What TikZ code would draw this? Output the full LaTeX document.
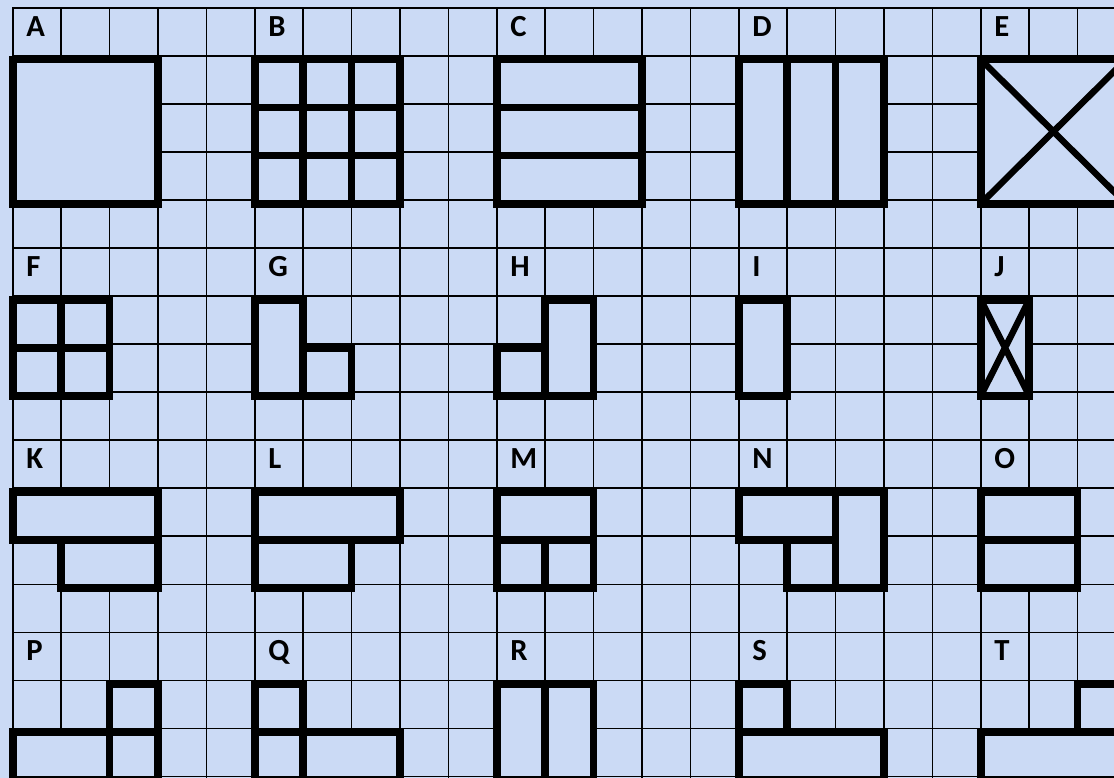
\documentclass[tikz,border=0pt]{standalone}
\usepackage{fontspec}
\setmainfont{Carlito}
\definecolor{bg}{RGB}{203,218,245}
\begin{document}
\begin{tikzpicture}[x=36.3pt,y=-36.04pt,
  gridline/.style={line width=1.25pt,black,line cap=rect},
  tb/.style={line width=5.8pt,black,line join=miter},
  diag/.style={line width=4.8pt,black},
  cover/.style={fill=bg},
  lab/.style={anchor=base west,inner sep=0pt,xshift=10pt,yshift=-21.4pt,
    font=\fontsize{23pt}{27pt}\selectfont\bfseries},
  shp/.style={yshift=-2.8pt}]
\fill[bg] (-9.6pt,5.775pt) rectangle (825.9pt,-577.725pt);
\useasboundingbox (-9.6pt,5.775pt) rectangle (825.9pt,-577.725pt);
% grid
\foreach \c in {0,...,22} \draw[gridline] (\c,0) -- (\c,16.3);
\foreach \r in {0,...,16} \draw[gridline] (0,\r) -- (22.9,\r);
% labels
\node[lab] (lA) at (0,0) {A};
\node[lab] (lB) at (5,0) {B};
\node[lab] (lC) at (10,0) {C};
\node[lab] (lD) at (15,0) {D};
\node[lab] (lE) at (20,0) {E};
\node[lab] (lF) at (0,5) {F};
\node[lab] (lG) at (5,5) {G};
\node[lab] (lH) at (10,5) {H};
\node[lab] (lI) at (15,5) {I};
\node[lab] (lJ) at (20,5) {J};
\node[lab] (lK) at (0,9) {K};
\node[lab] (lL) at (5,9) {L};
\node[lab] (lM) at (10,9) {M};
\node[lab] (lN) at (15,9) {N};
\node[lab] (lO) at (20,9) {O};
\node[lab] (lP) at (0,13) {P};
\node[lab] (lQ) at (5,13) {Q};
\node[lab] (lR) at (10,13) {R};
\node[lab] (lS) at (15,13) {S};
\node[lab] (lT) at (20,13) {T};
\begin{scope}[shp]
% A
\fill[cover] (0,1) rectangle (3,4);
\draw[tb] (0,1) rectangle (3,4);
% B
\fill[cover] (5,1) rectangle (8,4);
\draw[tb] (5,1) rectangle (8,4);
\draw[tb] (6,1) -- (6,4) (7,1) -- (7,4) (5,2) -- (8,2) (5,3) -- (8,3);
% C
\fill[cover] (10,1) rectangle (13,4);
\draw[tb] (10,1) rectangle (13,4);
\draw[tb] (10,2) -- (13,2) (10,3) -- (13,3);
% D
\fill[cover] (15,1) rectangle (18,4);
\draw[tb] (15,1) rectangle (18,4);
\draw[tb] (16,1) -- (16,4) (17,1) -- (17,4);
% E
\fill[cover] (20,1) rectangle (23,4);
\draw[diag] (20,1) -- (23,4) (20,4) -- (23,1);
\draw[tb] (20,1) rectangle (23,4);
% F
\fill[cover] (0,6) rectangle (2,8);
\draw[tb] (0,6) rectangle (2,8);
\draw[tb] (1,6) -- (1,8) (0,7) -- (2,7);
% G
\fill[cover] (5,6) rectangle (6,8) (6,7) rectangle (7,8);
\draw[tb] (5,6) rectangle (6,8) (6,7) rectangle (7,8);
% H
\fill[cover] (11,6) rectangle (12,8) (10,7) rectangle (11,8);
\draw[tb] (11,6) rectangle (12,8) (10,7) rectangle (11,8);
% I
\fill[cover] (15,6) rectangle (16,8);
\draw[tb] (15,6) rectangle (16,8);
% J
\fill[cover] (20,6) rectangle (21,8);
\draw[diag] (20,6) -- (21,8) (20,8) -- (21,6);
\draw[tb] (20,6) rectangle (21,8);
% K
\fill[cover] (0,10) rectangle (3,11) (1,11) rectangle (3,12);
\draw[tb] (0,10) rectangle (3,11) (1,11) rectangle (3,12);
% L
\fill[cover] (5,10) rectangle (8,11) (5,11) rectangle (7,12);
\draw[tb] (5,10) rectangle (8,11) (5,11) rectangle (7,12);
% M
\fill[cover] (10,10) rectangle (12,12);
\draw[tb] (10,10) rectangle (12,12);
\draw[tb] (10,11) -- (12,11) (11,11) -- (11,12);
% N
\fill[cover] (15,10) rectangle (17,11) (17,10) rectangle (18,12) (16,11) rectangle (17,12);
\draw[tb] (15,10) rectangle (17,11) (17,10) rectangle (18,12) (16,11) rectangle (17,12);
% O
\fill[cover] (20,10) rectangle (22,12);
\draw[tb] (20,10) rectangle (22,12);
\draw[tb] (20,11) -- (22,11);
% P
\fill[cover] (2,14) rectangle (3,15) (0,15) rectangle (3,16);
\draw[tb] (2,14) rectangle (3,15) (0,15) rectangle (3,16);
\draw[tb] (2,15) -- (2,16);
% Q
\fill[cover] (5,14) rectangle (6,15) (5,15) rectangle (8,16);
\draw[tb] (5,14) rectangle (6,15) (5,15) rectangle (8,16);
\draw[tb] (6,15) -- (6,16);
% R
\fill[cover] (10,14) rectangle (12,16);
\draw[tb] (10,14) rectangle (12,16);
\draw[tb] (11,14) -- (11,16);
% S
\fill[cover] (15,14) rectangle (16,15) (15,15) rectangle (18,16);
\draw[tb] (15,14) rectangle (16,15) (15,15) rectangle (18,16);
% T
\fill[cover] (22,14) rectangle (23,15) (20,15) rectangle (23,16);
\draw[tb] (22,14) rectangle (23,15) (20,15) rectangle (23,16);
\end{scope}
\end{tikzpicture}
\end{document}
